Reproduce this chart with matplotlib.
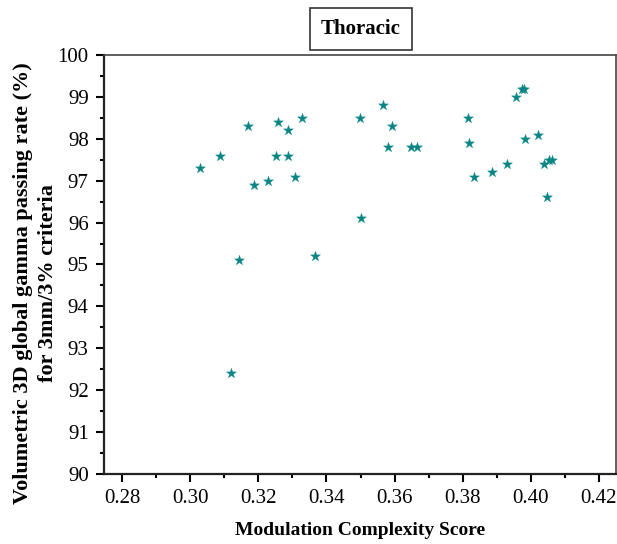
import matplotlib
matplotlib.use("Agg")
import matplotlib.pyplot as plt
from matplotlib.ticker import MultipleLocator

mcs = [0.3028, 0.3087, 0.3120, 0.3143, 0.3170, 0.3187, 0.3227, 0.3253, 0.3258,
       0.3286, 0.3286, 0.3308, 0.3328, 0.3366, 0.3498, 0.3502, 0.3565, 0.3580,
       0.3592, 0.3649, 0.3665, 0.3816, 0.3819, 0.3834, 0.3886, 0.3931, 0.3955,
       0.3975, 0.3981, 0.3983, 0.4022, 0.4039, 0.4046, 0.4052, 0.4062]
gpr = [97.3, 97.6, 92.4, 95.1, 98.3, 96.9, 97.0, 97.6, 98.4,
       98.2, 97.6, 97.1, 98.5, 95.2, 98.5, 96.1, 98.8, 97.8,
       98.3, 97.8, 97.8, 98.5, 97.9, 97.1, 97.2, 97.4, 99.0,
       99.2, 99.2, 98.0, 98.1, 97.4, 96.6, 97.5, 97.5]

title = "Thoracic"
xlabel = "Modulation Complexity Score"
ylabel = "Volumetric 3D global gamma passing rate (%)\nfor 3mm/3% criteria"

plt.rcParams['font.family'] = ['Liberation Serif', 'DejaVu Serif']

fig = plt.figure(figsize=(6.17, 5.44), dpi=100)
ax = fig.add_axes([104/617, 1-474/544, (616-104)/617, (474-55)/544])

ax.scatter(mcs, gpr, marker='*', s=55, color='#0a8585', linewidths=0.3, zorder=3)

ax.set_xlim(0.2747, 0.425)
ax.set_ylim(90, 100)
ax.xaxis.set_major_locator(MultipleLocator(0.02))
ax.xaxis.set_minor_locator(MultipleLocator(0.01))
ax.yaxis.set_major_locator(MultipleLocator(1))
ax.yaxis.set_minor_locator(MultipleLocator(0.5))
ax.xaxis.set_major_formatter(plt.FuncFormatter(lambda v, p: f"{v:.2f}"))
ax.yaxis.set_major_formatter(plt.FuncFormatter(lambda v, p: f"{v:.0f}"))

ax.tick_params(which='major', direction='out', length=6, width=1.5, labelsize=15, pad=5)
ax.tick_params(which='minor', direction='out', length=3, width=1.5)
ax.tick_params(top=False, right=False)
for s in ['left', 'bottom']:
    ax.spines[s].set_linewidth(1.6)
    ax.spines[s].set_color('#222222')
for s in ['top', 'right']:
    ax.spines[s].set_linewidth(1.2)
    ax.spines[s].set_color('#444444')

ax.set_xlabel(xlabel, fontsize=14, fontweight='bold', labelpad=10)
ax.set_ylabel(ylabel, fontsize=16, fontweight='bold', linespacing=1.35)
ax.yaxis.set_label_coords((58 - 104) / 512, (474 - 283) / 419)

fig.text(361/617, 1-29/544, title, ha='center', va='center', fontsize=15, fontweight='bold',
         bbox=dict(boxstyle='square,pad=0.55', facecolor='white', edgecolor='#333333', linewidth=1.2))

fig.savefig("out.png", dpi=100)
